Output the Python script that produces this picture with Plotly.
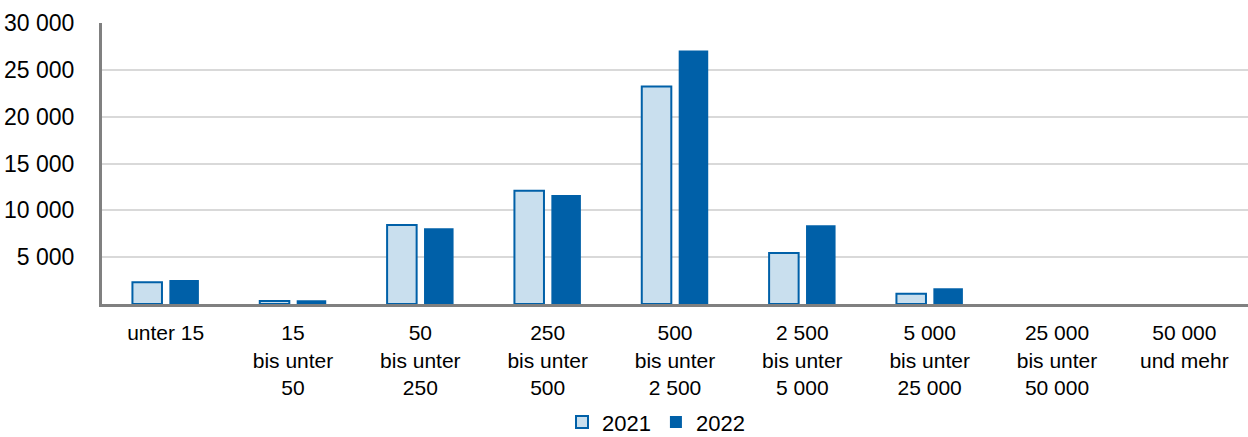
import plotly.graph_objects as go

# Size classes (x axis) and counts per year
categories = [
    "unter 15",
    "15<br>bis unter<br>50",
    "50<br>bis unter<br>250",
    "250<br>bis unter<br>500",
    "500<br>bis unter<br>2 500",
    "2 500<br>bis unter<br>5 000",
    "5 000<br>bis unter<br>25 000",
    "25 000<br>bis unter<br>50 000",
    "50 000<br>und mehr",
]
values_2021 = [2320, 320, 8440, 12100, 23220, 5450, 1100, 0, 0]
values_2022 = [2560, 400, 8090, 11650, 27060, 8400, 1680, 0, 0]

y_ticks = [5000, 10000, 15000, 20000, 25000, 30000]
y_ticktext = ["5 000", "10 000", "15 000", "20 000", "25 000", "30 000"]

LIGHT = "#C9DFEE"
DARK = "#0060A8"
FONT = "Liberation Sans, Arial, sans-serif"

# no outline on empty classes
outline_2021 = [2 if v > 0 else 0 for v in values_2021]

fig = go.Figure()
fig.add_trace(go.Bar(
    name="2021", x=categories, y=values_2021,
    marker=dict(color=LIGHT, line=dict(color=DARK, width=outline_2021)),
))
fig.add_trace(go.Bar(
    name="2022", x=categories, y=values_2022,
    marker=dict(color=DARK, line=dict(color=DARK, width=0)),
))

fig.update_layout(
    width=1248, height=437,
    margin=dict(l=102, r=0, t=23, b=133, autoexpand=False),
    paper_bgcolor="white", plot_bgcolor="white",
    barmode="group", bargap=0.42, bargroupgap=0.2,
    font=dict(family=FONT, color="black", size=22),
    showlegend=True,
    legend=dict(
        orientation="h", x=0.4834, xanchor="center",
        yref="container", y=0.034, yanchor="middle",
        font=dict(size=22), itemwidth=30, traceorder="normal",
    ),
)
fig.update_xaxes(
    showline=True, linecolor="#808080", linewidth=3,
    showgrid=False, ticks="", tickfont=dict(size=21),
    ticklabelstandoff=8,
)
fig.update_yaxes(
    range=[0, 30000], tickvals=y_ticks, ticktext=y_ticktext,
    showline=True, linecolor="#808080", linewidth=3,
    showgrid=True, gridcolor="#D9D9D9", gridwidth=2,
    zeroline=False, ticks="", tickfont=dict(size=23),
    ticklabelstandoff=20,
)

fig.write_html("out.html")
